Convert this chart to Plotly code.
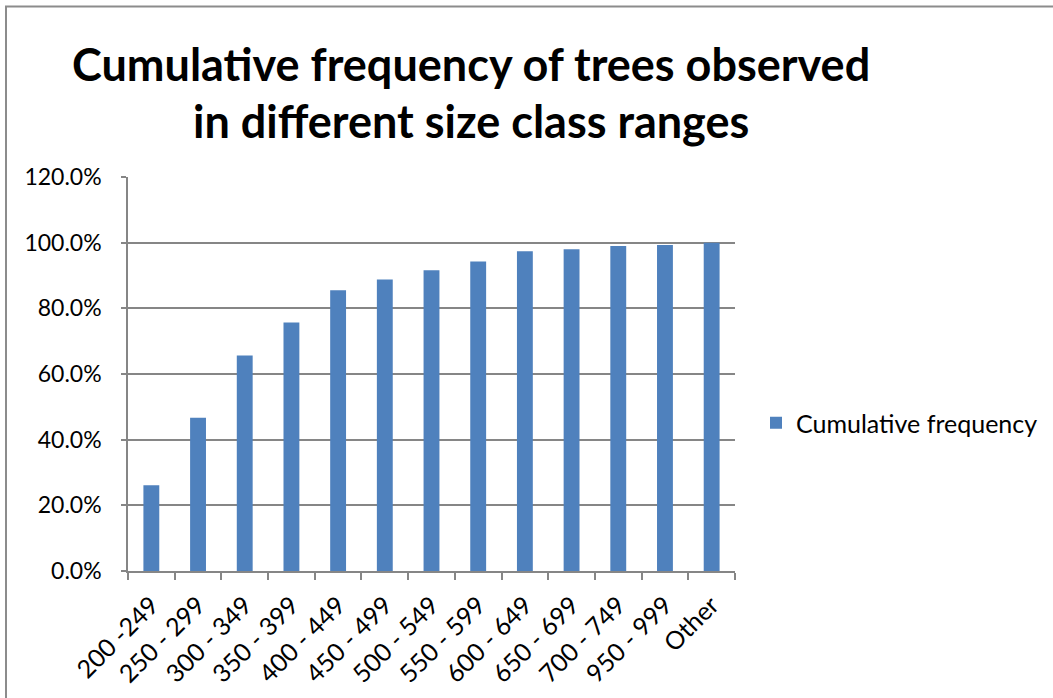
import plotly.graph_objects as go

categories = ["200 -249", "250 - 299", "300 - 349", "350 - 399", "400 - 449", "450 - 499",
              "500 - 549", "550 - 599", "600 - 649", "650 - 699", "700 - 749", "950 - 999", "Other"]
cumulative_frequency = [0.261, 0.467, 0.656, 0.757, 0.855, 0.888, 0.916, 0.943, 0.974,
                        0.980, 0.990, 0.993, 1.000]
series_name = "Cumulative frequency"
title_lines = ["Cumulative frequency of trees observed", "in different size class ranges"]

W, H = 1053, 698
L, R, T, B = 128, 735, 177, 571  # plot area in pixels
pw, ph = R - L, B - T


def px(x):
    return (x - L) / pw


def py(y):
    return (B - y) / ph


FONT = "Lato, Open Sans, sans-serif"
GRAY = "#868686"

fig = go.Figure()
fig.add_trace(go.Bar(
    x=categories, y=cumulative_frequency, name=series_name,
    marker=dict(color="#4F81BD", line=dict(width=0)),
    showlegend=True,
))

fig.update_layout(
    width=W, height=H,
    margin=dict(l=L, r=W - R, t=T, b=H - B, autoexpand=False),
    paper_bgcolor="white", plot_bgcolor="white",
    font=dict(family=FONT, color="black"),
    bargap=0.66,
    showlegend=True,
    legend=dict(x=px(756), y=py(423), xanchor="left", yanchor="middle",
                font=dict(size=25, family=FONT, color="black"), itemwidth=30),
    xaxis=dict(
        type="category", showline=True, linecolor=GRAY, linewidth=1.5,
        ticks="outside", tickson="boundaries", ticklen=7, tickcolor=GRAY, tickwidth=1.5,
        tickangle=-45, tickfont=dict(size=25, color="black"), showgrid=False, automargin=False,
        ticklabelstandoff=8,
    ),
    yaxis=dict(
        range=[0, 1.2], dtick=0.2, tickformat=".1%", showline=True, linecolor=GRAY, linewidth=1.5,
        ticks="outside", ticklen=5, tickcolor=GRAY, tickwidth=1.5,
        showgrid=True, gridcolor=GRAY, gridwidth=1.5, tickfont=dict(size=23, color="black"),
        zeroline=False, automargin=False, ticklabelstandoff=15,
    ),
)

for line, yc in zip(title_lines, [64, 121]):
    fig.add_annotation(text="<b>" + line + "</b>", xref="paper", yref="paper",
                       x=px(471), y=py(yc), xanchor="center", yanchor="middle", showarrow=False,
                       font=dict(size=45, family=FONT, color="black"))

fig.add_shape(type="rect", xref="paper", yref="paper",
              x0=px(6), x1=px(1070), y0=py(715), y1=py(6.5),
              line=dict(color="#8C8C8C", width=2), layer="below")

fig.write_html("out.html", config={"displayModeBar": False},
               post_script="document.body.style.margin='0';")
